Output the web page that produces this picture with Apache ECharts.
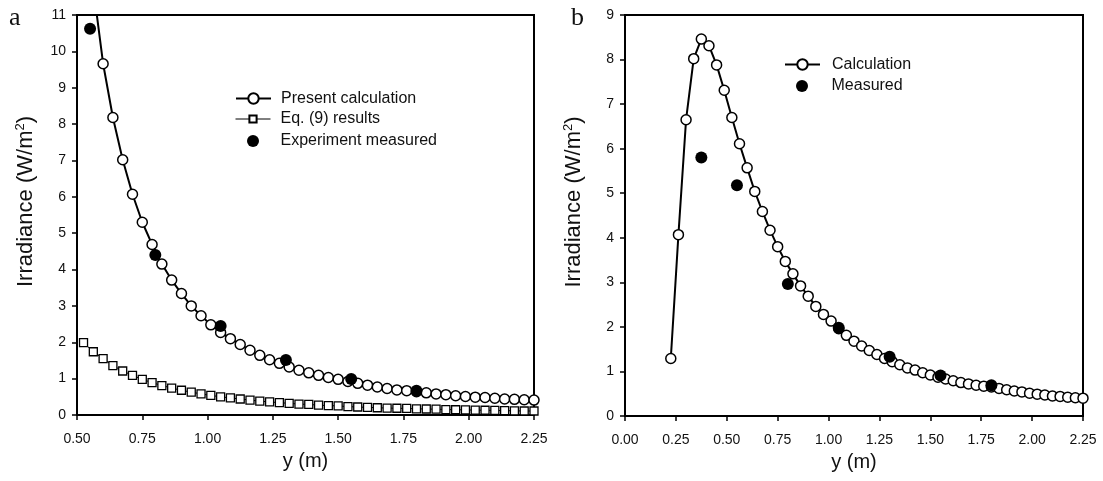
<!DOCTYPE html>
<html>
<head>
<meta charset="utf-8">
<script src="https://cdn.jsdelivr.net/npm/echarts@6/dist/echarts.min.js"></script>
<style>
html,body{margin:0;padding:0;background:#fff;}
#chart{width:1103px;height:481px;}
</style>
</head>
<body>
<div id="chart"></div>
<script>
// ---------- Panel a data ----------
const aCalcX = [0.5625,0.6,0.6375,0.675,0.7125,0.75,0.7875,0.825,0.8625,0.9,0.9375,0.975,1.0125,1.05,1.0875,1.125,1.1625,1.2,1.2375,1.275,1.3125,1.35,1.3875,1.425,1.4625,1.5,1.5375,1.575,1.6125,1.65,1.6875,1.725,1.7625,1.8,1.8375,1.875,1.9125,1.95,1.9875,2.025,2.0625,2.1,2.1375,2.175,2.2125,2.25];
const aCalcY = [11.75,9.66,8.18,7.02,6.07,5.30,4.69,4.15,3.71,3.34,3.00,2.73,2.48,2.27,2.10,1.94,1.78,1.64,1.52,1.42,1.32,1.23,1.16,1.09,1.03,0.98,0.92,0.87,0.82,0.77,0.73,0.69,0.67,0.64,0.61,0.58,0.56,0.53,0.51,0.49,0.48,0.46,0.44,0.43,0.42,0.41];
const aEqX = [0.525,0.5625,0.6,0.6375,0.675,0.7125,0.75,0.7875,0.825,0.8625,0.9,0.9375,0.975,1.0125,1.05,1.0875,1.125,1.1625,1.2,1.2375,1.275,1.3125,1.35,1.3875,1.425,1.4625,1.5,1.5375,1.575,1.6125,1.65,1.6875,1.725,1.7625,1.8,1.8375,1.875,1.9125,1.95,1.9875,2.025,2.0625,2.1,2.1375,2.175,2.2125,2.25];
const aEqY = [1.99,1.74,1.55,1.36,1.21,1.09,0.98,0.89,0.81,0.74,0.68,0.63,0.58,0.54,0.50,0.47,0.44,0.41,0.38,0.36,0.34,0.32,0.30,0.29,0.27,0.26,0.25,0.23,0.22,0.21,0.20,0.19,0.185,0.18,0.17,0.165,0.16,0.15,0.145,0.14,0.135,0.13,0.125,0.12,0.115,0.11,0.11];
const aExpX = [0.55,0.8,1.05,1.3,1.55,1.8];
const aExpY = [10.62,4.40,2.45,1.51,0.99,0.67];

// ---------- Panel b data ----------
const bCalcX = [0.225,0.2625,0.3,0.3375,0.375,0.4125,0.45,0.4875,0.525,0.5625,0.6,0.6375,0.675,0.7125,0.75,0.7875,0.825,0.8625,0.9,0.9375,0.975,1.0125,1.05,1.0875,1.125,1.1625,1.2,1.2375,1.275,1.3125,1.35,1.3875,1.425,1.4625,1.5,1.5375,1.575,1.6125,1.65,1.6875,1.725,1.7625,1.8,1.8375,1.875,1.9125,1.95,1.9875,2.025,2.0625,2.1,2.1375,2.175,2.2125,2.25];
const bCalcY = [1.29,4.07,6.65,8.02,8.46,8.31,7.88,7.31,6.70,6.11,5.57,5.04,4.59,4.17,3.80,3.47,3.19,2.92,2.69,2.46,2.28,2.13,1.96,1.81,1.68,1.57,1.47,1.38,1.29,1.22,1.15,1.08,1.03,0.97,0.92,0.87,0.83,0.79,0.75,0.72,0.69,0.67,0.65,0.62,0.59,0.56,0.54,0.51,0.49,0.47,0.45,0.44,0.42,0.41,0.40];
const bMeasX = [0.375,0.55,0.8,1.05,1.3,1.55,1.8];
const bMeasY = [5.80,5.18,2.96,1.98,1.33,0.91,0.69];

const zip = (xs, ys) => xs.map((x, i) => [x, ys[i]]);
const FONT = 'Liberation Sans, Arial, Helvetica, sans-serif';
const TXT = '#111';

const chart = echarts.init(document.getElementById('chart'), null, {renderer: 'canvas'});

function xAxisCfg(gridIndex, min, max) {
  return {
    type: 'value', gridIndex, min, max, interval: 0.25,
    name: 'y (m)', nameLocation: 'middle', nameGap: 36,
    nameTextStyle: {fontFamily: FONT, fontSize: 20, color: TXT},
    axisLine: {show: true, onZero: false, lineStyle: {color: '#000', width: 2}},
    axisTick: {show: true, inside: false, length: 5, lineStyle: {color: '#000', width: 1.5}},
    axisLabel: {fontFamily: FONT, fontSize: 14, color: TXT, margin: 17,
      formatter: v => v.toFixed(2)},
    splitLine: {show: false}
  };
}
function yAxisCfg(gridIndex, max) {
  return {
    type: 'value', gridIndex, min: 0, max, interval: 1,
    name: 'Irradiance (W/m{sup|2})', nameLocation: 'middle', nameGap: 40,
    nameTextStyle: {fontFamily: FONT, fontSize: 22, color: TXT, padding: [0, 0, 0, 27],
      rich: {sup: {fontFamily: FONT, fontSize: 13, color: TXT, padding: [0, 0, 10, 0]}}},
    axisLine: {show: true, onZero: false, lineStyle: {color: '#000', width: 2}},
    axisTick: {show: true, inside: false, length: 5, lineStyle: {color: '#000', width: 1.5}},
    axisLabel: {fontFamily: FONT, fontSize: 14, color: TXT, margin: 11},
    splitLine: {show: false}
  };
}

const openCircle = {color: '#fff', borderColor: '#000', borderWidth: 1.5};
const legendText = {fontFamily: FONT, fontSize: 16, color: TXT};
function legendCfg(name, left, top, itemHeight, lineWidth, textPad) {
  return {
    data: [name], orient: 'vertical', left, top, padding: 0,
    itemWidth: 35, itemHeight,
    lineStyle: {width: lineWidth},
    textStyle: Object.assign({padding: [0, 0, 0, textPad]}, legendText),
    selectedMode: false
  };
}

const option = {
  animation: false,
  backgroundColor: '#fff',
  grid: [
    {left: 77, right: 569, top: 15, bottom: 66, show: true, borderColor: '#000', borderWidth: 2, backgroundColor: 'transparent'},
    {left: 625, right: 20, top: 15, bottom: 65, show: true, borderColor: '#000', borderWidth: 2, backgroundColor: 'transparent'}
  ],
  xAxis: [xAxisCfg(0, 0.5, 2.25), xAxisCfg(1, 0, 2.25)],
  yAxis: [yAxisCfg(0, 11), yAxisCfg(1, 9)],
  legend: [
    legendCfg('Present calculation', 235, 90.5, 13, 2, 5),
    legendCfg('Eq. (9) results', 235, 111, 9, 1, 5),
    legendCfg('Experiment measured', 247, 133, 12, 0, 5),
    legendCfg('Calculation', 784, 56.5, 13, 2, 7),
    legendCfg('Measured', 796, 78, 12, 0, 7)
  ],
  graphic: [
    {type: 'text', left: 9, top: 5, style: {text: 'a', font: '26px "Liberation Serif", "Times New Roman", serif', fill: TXT}},
    {type: 'text', left: 571, top: 5, style: {text: 'b', font: '26px "Liberation Serif", "Times New Roman", serif', fill: TXT}}
  ],
  series: [
    {
      name: 'Eq. (9) results', type: 'line', xAxisIndex: 0, yAxisIndex: 0,
      data: zip(aEqX, aEqY), symbol: 'rect', symbolSize: 8, showSymbol: true,
      lineStyle: {color: '#000', width: 1}, itemStyle: {color: '#fff', borderColor: '#000', borderWidth: 1.3},
      clip: true, z: 2
    },
    {
      name: 'Present calculation', type: 'line', xAxisIndex: 0, yAxisIndex: 0,
      data: zip(aCalcX, aCalcY), symbol: 'circle', symbolSize: 10, showSymbol: true,
      lineStyle: {color: '#000', width: 2}, itemStyle: openCircle, clip: true, z: 3
    },
    {
      name: 'Experiment measured', type: 'scatter', xAxisIndex: 0, yAxisIndex: 0,
      data: zip(aExpX, aExpY), symbol: 'circle', symbolSize: 12,
      itemStyle: {color: '#000', opacity: 1}, z: 5
    },
    {
      name: 'Calculation', type: 'line', xAxisIndex: 1, yAxisIndex: 1,
      data: zip(bCalcX, bCalcY), symbol: 'circle', symbolSize: 10, showSymbol: true,
      lineStyle: {color: '#000', width: 2}, itemStyle: openCircle, clip: true, z: 3
    },
    {
      name: 'Measured', type: 'scatter', xAxisIndex: 1, yAxisIndex: 1,
      data: zip(bMeasX, bMeasY), symbol: 'circle', symbolSize: 12,
      itemStyle: {color: '#000', opacity: 1}, z: 5
    }
  ]
};
chart.setOption(option);
</script>
</body>
</html>
